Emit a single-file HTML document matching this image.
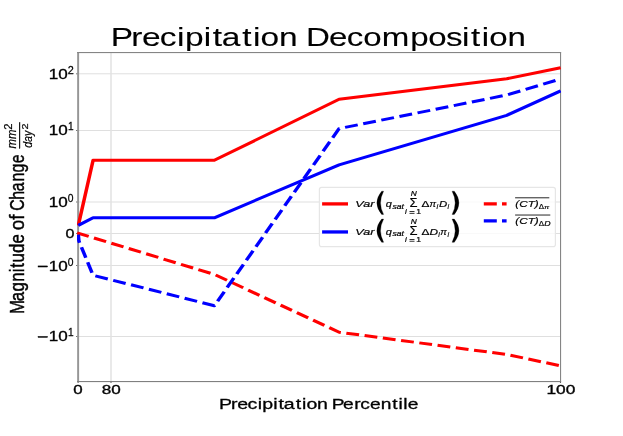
<!DOCTYPE html>
<html><head><meta charset="utf-8"><title>Precipitation Decomposition</title>
<style>html,body{margin:0;padding:0;background:#fff;}body{width:623px;height:436px;overflow:hidden;font-family:"Liberation Sans",sans-serif;}svg{display:block}</style>
</head><body>
<svg width="623" height="436" viewBox="0 0 623 436" font-family="Liberation Sans, sans-serif">
<rect width="623" height="436" fill="#fff"/>
<g id="grid"><line x1="78.1" x2="560.5" y1="73.8" y2="73.8" stroke="#dfdfdf" stroke-width="1"/><line x1="78.1" x2="560.5" y1="130.5" y2="130.5" stroke="#dfdfdf" stroke-width="1"/><line x1="78.1" x2="560.5" y1="202.0" y2="202.0" stroke="#dfdfdf" stroke-width="1"/><line x1="78.1" x2="560.5" y1="233.5" y2="233.5" stroke="#dfdfdf" stroke-width="1"/><line x1="78.1" x2="560.5" y1="265.5" y2="265.5" stroke="#dfdfdf" stroke-width="1"/><line x1="78.1" x2="560.5" y1="336.5" y2="336.5" stroke="#dfdfdf" stroke-width="1"/><line x1="111.0" x2="111.0" y1="52.5" y2="381.5" stroke="#e2e2e2" stroke-width="1.5"/></g>
<clipPath id="ax"><rect x="77.1" y="52" width="484" height="330"/></clipPath>
<g id="spines"><rect x="77.15" y="52" width="1.95" height="330" fill="#969696"/><rect x="560" y="52" width="1.1" height="330" fill="#858585"/><rect x="77.1" y="52" width="484" height="1.1" fill="#858585"/><rect x="77.1" y="381" width="484" height="1.1" fill="#808080"/><rect x="77.55" y="381.9" width="1.1" height="1.0" fill="#555"/><rect x="110.45" y="381.9" width="1.1" height="1.0" fill="#555"/><rect x="559.95" y="381.9" width="1.1" height="1.0" fill="#555"/><rect x="76.2" y="73.30" width="1.0" height="1.0" fill="#555"/><rect x="76.2" y="130.00" width="1.0" height="1.0" fill="#555"/><rect x="76.2" y="201.50" width="1.0" height="1.0" fill="#555"/><rect x="76.2" y="233.00" width="1.0" height="1.0" fill="#555"/><rect x="76.2" y="265.00" width="1.0" height="1.0" fill="#555"/><rect x="76.2" y="336.00" width="1.0" height="1.0" fill="#555"/></g>
<g id="lines" clip-path="url(#ax)"><g transform="scale(1.17,1)"><polyline points="66.92,225.4 79.57,160.3 183.16,160.3 289.83,99.3 433.08,78.8 479.15,67.7" fill="none" stroke="#ff0000" stroke-width="3.0" stroke-linejoin="round" /><polyline points="66.92,225.4 79.57,217.8 183.16,217.8 289.83,164.8 433.08,115.3 479.15,90.9" fill="none" stroke="#0000ff" stroke-width="3.0" stroke-linejoin="round" /><polyline points="65.98,232.9 183.16,274.4 289.91,332.2 433.08,354.5 479.15,365.8" fill="none" stroke="#ff0000" stroke-width="3.0" stroke-linejoin="round" stroke-dasharray="11.02 4.76" stroke-dashoffset="0.6"/><polyline points="66.92,234.6 67.44,241 79.57,275.3 183.25,305.7 289.83,128.6 433.08,95.0 479.15,79.0" fill="none" stroke="#0000ff" stroke-width="3.0" stroke-linejoin="round" stroke-dasharray="11.1 4.8" stroke-dashoffset="2.9"/></g></g>
<g id="legend"><rect x="319.4" y="187.3" width="236" height="59.3" rx="2.2" ry="2.2" fill="#fff" fill-opacity="0.8" stroke="#e6e6e6" stroke-width="1.2"/><line x1="322.1" x2="348" y1="203.9" y2="203.9" stroke="#ff0000" stroke-width="3.3"/><line x1="322.1" x2="348" y1="231.95" y2="231.95" stroke="#0000ff" stroke-width="3.3"/><line x1="483.8" x2="506.6" y1="203.8" y2="203.8" stroke="#ff0000" stroke-width="3.3" stroke-dasharray="13 5.2"/><line x1="483.8" x2="506.6" y1="220.8" y2="220.8" stroke="#0000ff" stroke-width="3.3" stroke-dasharray="13 5.2"/><path d="M381.70,191.20 Q372.10,202.80 381.70,214.40 L383.60,214.40 Q377.40,202.80 383.60,191.20Z" fill="#000" stroke="#000" stroke-width="0.3" stroke-linejoin="round"/><rect x="409.5" y="211.15" width="5" height="0.8" fill="#000"/><rect x="409.5" y="212.90" width="5" height="0.8" fill="#000"/><path d="M454.30,191.20 Q463.50,202.80 454.30,214.40 L452.10,214.40 Q458.30,202.80 452.10,191.20Z" fill="#000" stroke="#000" stroke-width="0.3" stroke-linejoin="round"/><path d="M381.70,219.10 Q372.10,230.70 381.70,242.30 L383.60,242.30 Q377.40,230.70 383.60,219.10Z" fill="#000" stroke="#000" stroke-width="0.3" stroke-linejoin="round"/><rect x="409.5" y="239.05" width="5" height="0.8" fill="#000"/><rect x="409.5" y="240.80" width="5" height="0.8" fill="#000"/><path d="M454.30,219.10 Q463.50,230.70 454.30,242.30 L452.10,242.30 Q458.30,230.70 452.10,219.10Z" fill="#000" stroke="#000" stroke-width="0.3" stroke-linejoin="round"/><rect x="515.1" y="197.40" width="34.20" height="0.85" fill="#000"/><rect x="515.1" y="214.60" width="35.20" height="0.85" fill="#000"/></g>
<g id="texts" stroke="#000" stroke-width="0.38" opacity="0.999"><text transform="translate(115.40,46.40) scale(1.2783,1)" x="-3.71 12.37 20.91 34.71 48.17 54.40 69.17 76.07 83.14 99.18 107.70 113.55 127.92" font-size="26.20" fill="#000" stroke-width="0.12" style="font-kerning:none">Precipitation</text><text transform="translate(309.50,46.40) scale(1.2617,1)" x="-2.79 15.52 29.46 42.52 57.37 79.76 94.12 108.19 120.95 127.92 136.52 142.47 156.99" font-size="26.20" fill="#000" stroke-width="0.12" style="font-kerning:none">Decomposition</text><text transform="translate(221.70,409.32) scale(1.2691,1)" x="-2.18 7.27 12.29 20.40 28.31 31.98 40.65 44.71 48.86 58.30 63.30 66.74 75.19" font-size="15.40" fill="#000" stroke-width="0.3" style="font-kerning:none">Precipitation</text><text transform="translate(334.40,409.30) scale(1.2481,1)" x="-2.12 6.92 15.90 20.80 28.58 37.16 46.28 51.35 55.16 58.76" font-size="15.37" fill="#000" stroke-width="0.3" style="font-kerning:none">Percentile</text><text transform="translate(73.31,394.17) scale(1.3338,1)" font-size="12.68"  fill="#000"  stroke-width="0.34">0</text><text transform="translate(101.72,394.17) scale(1.3571,1)" font-size="12.59"  fill="#000"  stroke-width="0.34">80</text><text transform="translate(546.40,394.17) scale(1.3677,1)" font-size="12.68"  fill="#000"  stroke-width="0.34">100</text><text transform="translate(48.82,78.66) scale(1.2312,1)" font-size="13.87"  fill="#000"  stroke-width="0.34">10</text><text transform="translate(67.66,73.75) scale(1.0423,1)" font-size="10.43"  fill="#000"  stroke-width="0.25">2</text><text transform="translate(48.82,135.36) scale(1.2312,1)" font-size="13.87"  fill="#000"  stroke-width="0.34">10</text><text transform="translate(68.04,130.45) scale(0.9561,1)" font-size="10.58"  fill="#000"  stroke-width="0.25">1</text><text transform="translate(48.82,207.36) scale(1.2312,1)" font-size="13.87"  fill="#000"  stroke-width="0.34">10</text><text transform="translate(67.84,202.35) scale(1.0027,1)" font-size="10.28"  fill="#000"  stroke-width="0.25">0</text><text transform="translate(48.82,270.81) scale(1.2312,1)" font-size="13.87"  fill="#000"  stroke-width="0.34">10</text><text transform="translate(67.84,265.80) scale(1.0027,1)" font-size="10.28"  fill="#000"  stroke-width="0.25">0</text><rect x="38.0" y="265.90" width="9.6" height="1.15" fill="#000"/><text transform="translate(48.82,341.26) scale(1.2312,1)" font-size="13.87"  fill="#000"  stroke-width="0.34">10</text><text transform="translate(68.04,336.35) scale(0.9561,1)" font-size="10.58"  fill="#000"  stroke-width="0.25">1</text><rect x="38.0" y="336.35" width="9.6" height="1.15" fill="#000"/><text transform="translate(65.54,238.37) scale(1.2020,1)" font-size="13.38"  fill="#000"  stroke-width="0.34">0</text><text transform="translate(23.87,311.90) rotate(-90) scale(0.8579,1)" x="-2.40 12.47 23.92 35.08 46.26 51.48 57.68 68.66 79.65" font-size="19.68" fill="#000" stroke-width="0.45" style="font-kerning:none">Magnitude</text><text transform="translate(23.86,229.10) rotate(-90) scale(0.9513,1)" x="-1.23 9.84" font-size="19.67" fill="#000" stroke-width="0.45" style="font-kerning:none">of</text><text transform="translate(23.87,209.30) rotate(-90) scale(0.8058,1)" x="-1.92 11.85 22.40 34.38 45.69 57.11" font-size="19.68" fill="#000" stroke-width="0.45" style="font-kerning:none">Change</text><text transform="translate(16.13,148.47) rotate(-90) scale(0.8567,1)" font-size="13.21" font-style="italic" fill="#000"  stroke-width="0.2">mm</text><text transform="translate(11.80,129.77) rotate(-90) scale(1.1145,1)" font-size="10.14"  fill="#000"  stroke-width="0.2">2</text><text transform="translate(32.19,147.82) rotate(-90) scale(0.8615,1)" font-size="12.41" font-style="italic" fill="#000"  stroke-width="0.18">day</text><text transform="translate(27.60,129.44) rotate(-90) scale(1.3118,1)" font-size="8.29"  fill="#000"  stroke-width="0.2">2</text><rect x="19.2" y="122.7" width="0.8" height="25.8" fill="#000"/><text transform="translate(355.23,206.90) scale(1.3016,1)" font-size="9.71" font-style="italic" fill="#000"  stroke-width="0.2">Var</text><text transform="translate(385.67,207.03) scale(1.1110,1)" font-size="9.87" font-style="italic" fill="#000"  stroke-width="0.2">q</text><text transform="translate(392.40,208.53) scale(1.1933,1)" font-size="7.27" font-style="italic" fill="#000"  stroke-width="0.2">sat</text><text transform="translate(410.65,196.30) scale(1.1996,1)" font-size="6.96" font-style="italic" fill="#000"  stroke-width="0.2">N</text><text transform="translate(409.45,207.00) scale(1.0694,1)" font-size="12.17"  fill="#000"  stroke-width="0.2">Σ</text><text transform="translate(405.08,214.37) scale(1.2420,1)" font-size="6.30" font-style="italic" fill="#000"  stroke-width="0.2">i</text><text transform="translate(416.26,214.40) scale(1.2759,1)" font-size="6.67"  fill="#000"  stroke-width="0.2">1</text><text transform="translate(421.60,207.00) scale(1.2224,1)" font-size="9.71"  fill="#000"  stroke-width="0.2">Δ</text><text transform="translate(429.41,206.90) scale(1.0225,1)" font-size="9.63" font-style="italic" fill="#000"  stroke-width="0.2">π</text><text transform="translate(436.39,208.66) scale(0.9303,1)" font-size="7.95" font-style="italic" fill="#000"  stroke-width="0.2">i</text><text transform="translate(439.06,207.00) scale(1.1703,1)" font-size="9.71" font-style="italic" fill="#000"  stroke-width="0.2">D</text><text transform="translate(447.50,208.66) scale(0.8756,1)" font-size="7.95" font-style="italic" fill="#000"  stroke-width="0.2">i</text><text transform="translate(355.23,234.80) scale(1.3016,1)" font-size="9.71" font-style="italic" fill="#000"  stroke-width="0.2">Var</text><text transform="translate(385.67,234.93) scale(1.1110,1)" font-size="9.87" font-style="italic" fill="#000"  stroke-width="0.2">q</text><text transform="translate(392.40,236.43) scale(1.1933,1)" font-size="7.27" font-style="italic" fill="#000"  stroke-width="0.2">sat</text><text transform="translate(410.65,224.20) scale(1.1996,1)" font-size="6.96" font-style="italic" fill="#000"  stroke-width="0.2">N</text><text transform="translate(409.45,234.90) scale(1.0694,1)" font-size="12.17"  fill="#000"  stroke-width="0.2">Σ</text><text transform="translate(405.08,242.27) scale(1.2420,1)" font-size="6.30" font-style="italic" fill="#000"  stroke-width="0.2">i</text><text transform="translate(416.26,242.30) scale(1.2759,1)" font-size="6.67"  fill="#000"  stroke-width="0.2">1</text><text transform="translate(421.60,234.90) scale(1.2224,1)" font-size="9.71"  fill="#000"  stroke-width="0.2">Δ</text><text transform="translate(429.55,234.90) scale(1.2171,1)" font-size="9.71" font-style="italic" fill="#000"  stroke-width="0.2">D</text><text transform="translate(438.20,236.56) scale(0.8756,1)" font-size="7.95" font-style="italic" fill="#000"  stroke-width="0.2">i</text><text transform="translate(440.31,234.80) scale(1.0225,1)" font-size="9.63" font-style="italic" fill="#000"  stroke-width="0.2">π</text><text transform="translate(447.50,236.56) scale(0.8756,1)" font-size="7.95" font-style="italic" fill="#000"  stroke-width="0.2">i</text><text transform="translate(515.27,206.63) scale(1.1953,1)" font-size="9.84" font-style="italic" fill="#000"  stroke-width="0.18">(CT)</text><text transform="translate(538.80,208.70) scale(1.2217,1)" font-size="6.52"  fill="#000"  stroke-width="0.2">Δ</text><text transform="translate(544.20,208.64) scale(1.2084,1)" font-size="6.11" font-style="italic" fill="#000"  stroke-width="0.2">π</text><text transform="translate(515.27,223.83) scale(1.1953,1)" font-size="9.84" font-style="italic" fill="#000"  stroke-width="0.18">(CT)</text><text transform="translate(538.80,225.90) scale(1.2217,1)" font-size="6.52"  fill="#000"  stroke-width="0.2">Δ</text><text transform="translate(544.24,225.90) scale(1.3475,1)" font-size="6.52" font-style="italic" fill="#000"  stroke-width="0.2">D</text></g>
</svg>
</body></html>
